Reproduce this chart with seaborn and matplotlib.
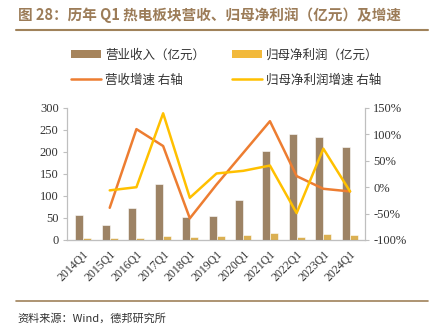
import matplotlib
matplotlib.use("Agg")
import matplotlib.pyplot as plt
import seaborn as sns
import numpy as np
import pandas as pd
from matplotlib.lines import Line2D
from matplotlib.patches import Patch

categories = ["2014Q1", "2015Q1", "2016Q1", "2017Q1", "2018Q1", "2019Q1",
              "2020Q1", "2021Q1", "2022Q1", "2023Q1", "2024Q1"]
revenue = [57, 35, 73, 128, 52, 54, 91, 203, 241, 234, 211]
profit = [4.5, 3.5, 3.5, 9, 7, 9, 11, 16.5, 7.5, 13.5, 12.5]
revenue_growth = [np.nan, -39, 110, 78, -59, 5, 65, 125, 21, -3, -8]
profit_growth = [np.nan, -6, 0, 140, -20, 26, 31, 41, -49, 73, -8]

name_rev = "营业收入（亿元）"
name_pro = "归母净利润（亿元）"
name_rg = "营收增速 右轴"
name_pg = "归母净利润增速 右轴"

c_rev = "#A6845C"
c_pro = "#F2B93B"
c_rg = "#ED7D31"
c_pg = "#FFC000"
brown = "#A0825A"
spine_c = "#BFBFBF"

sns.set_style("white")
plt.rcParams['font.family'] = ['Noto Sans CJK SC', 'DejaVu Sans']

bars = pd.DataFrame({
    "cat": categories * 2,
    "val": revenue + profit,
    "series": [name_rev] * len(categories) + [name_pro] * len(categories),
})
lines = pd.DataFrame({
    "x": list(range(len(categories))) * 2,
    "val": revenue_growth + profit_growth,
    "series": [name_rg] * len(categories) + [name_pg] * len(categories),
})

fig = plt.figure(figsize=(4.31, 3.35), dpi=100)
ax = fig.add_axes([67/431, 1-240/335, (365-67)/431, (240-108)/335])

sns.barplot(data=bars, x="cat", y="val", hue="series", order=categories,
            hue_order=[name_rev, name_pro],
            palette={name_rev: c_rev, name_pro: c_pro},
            width=0.6, edgecolor="white", linewidth=0.4, ax=ax, legend=False)

ax2 = ax.twinx()
sns.lineplot(data=lines, x="x", y="val", hue="series",
             hue_order=[name_rg, name_pg],
             palette={name_rg: c_rg, name_pg: c_pg},
             linewidth=1.8, ax=ax2, legend=False)

ax.set_xlim(-0.6, len(categories) - 0.44)
ax2.set_xlim(-0.6, len(categories) - 0.44)
ax.set_ylim(0, 300)
ax2.set_ylim(-100, 150)
ax.set_yticks(range(0, 301, 50))
ax2.set_yticks(range(-100, 151, 50))
ax2.set_yticklabels([f"{v}%" for v in range(-100, 151, 50)])
ax.set_xlabel("")
ax.set_ylabel("")
ax2.set_xlabel("")
ax2.set_ylabel("")

serif = ['Liberation Serif', 'DejaVu Serif']
ax.set_xticks(range(len(categories)))
ax.set_xticklabels(categories, rotation=45, ha="right", rotation_mode="anchor",
                   family=serif, fontsize=8.5, color="#333333")
ax.set_xticks(np.arange(-0.5, len(categories), 1), minor=True)
ax.tick_params(axis="x", which="major", length=0, pad=6)
ax.tick_params(axis="x", which="minor", length=3, color=spine_c, width=0.8)
ax.tick_params(axis="y", length=3, color=spine_c, width=0.8, labelsize=9, pad=3)
ax2.tick_params(axis="y", length=3, color=spine_c, width=0.8, labelsize=9, pad=3)
for lab in ax.get_yticklabels() + ax2.get_yticklabels():
    lab.set_family(serif)
    lab.set_color("#333333")

for a in (ax, ax2):
    a.spines["top"].set_visible(False)
    for s in ["left", "right", "bottom"]:
        a.spines[s].set_color(spine_c)
        a.spines[s].set_linewidth(0.8)
ax.spines["bottom"].set_color("#808080")

h_rev = Patch(facecolor=c_rev, edgecolor="none")
h_pro = Patch(facecolor=c_pro, edgecolor="none")
h_rg = Line2D([0], [0], color=c_rg, lw=1.8)
h_pg = Line2D([0], [0], color=c_pg, lw=1.8)
# column-major order: col1 = rev, rg ; col2 = pro, pg
handles = [h_rev, h_rg, h_pro, h_pg]
labels = [name_rev, name_rg, name_pro, name_pg]
leg = fig.legend(handles, labels, ncol=2, loc="center",
                 bbox_to_anchor=(0.525, 1-67.5/335), frameon=False,
                 fontsize=9, handlelength=2.4, handleheight=0.55,
                 handletextpad=0.3, columnspacing=2.2, labelspacing=0.95)
for t in leg.get_texts():
    t.set_color("#333333")

fig.text(18/431, 1-15/335, "图 28：历年 Q1 热电板块营收、归母净利润（亿元）及增速",
         fontsize=10.5, fontweight="bold", color="#9C7C58", va="center", ha="left")
fig.add_artist(Line2D([16/431, 428/431], [1-30/335, 1-30/335],
                      transform=fig.transFigure, color=brown, lw=1.5))
fig.add_artist(Line2D([16/431, 428/431], [1-301/335, 1-301/335],
                      transform=fig.transFigure, color=brown, lw=1.2))
fig.text(17/431, 1-318/335, "资料来源：Wind，德邦研究所", fontsize=8,
         color="#333333", va="center", ha="left")

fig.savefig("out.png", dpi=100, facecolor="white")
